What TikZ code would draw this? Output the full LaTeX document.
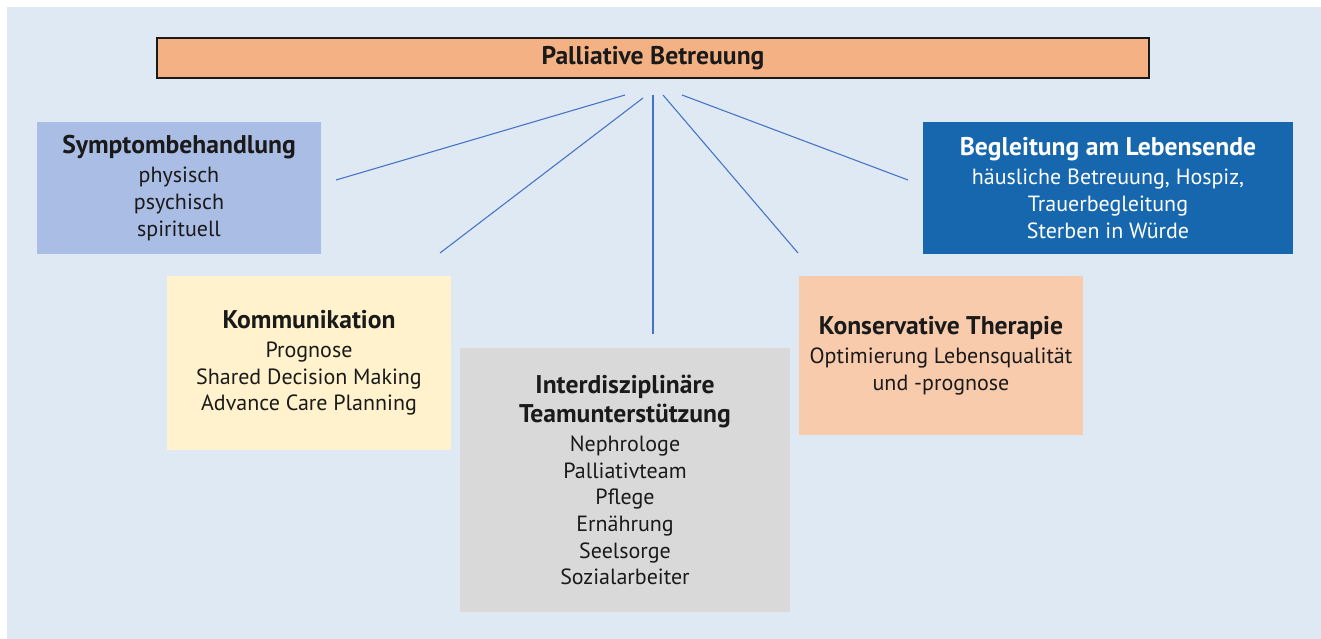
\documentclass[tikz,border=0pt]{standalone}
\usepackage{fontspec}
\setmainfont{PT Sans}
\definecolor{bg}{HTML}{DFE9F4}
\definecolor{toporange}{HTML}{F4B183}
\definecolor{symblue}{HTML}{AABDE5}
\definecolor{darkblue}{HTML}{1667AD}
\definecolor{kommyellow}{HTML}{FFF2CC}
\definecolor{teamgray}{HTML}{D9D9D9}
\definecolor{konspeach}{HTML}{F8CBAD}
\definecolor{lineblue}{HTML}{4472C4}
\definecolor{txt}{HTML}{1A1A1A}
\newcommand{\hd}[1]{{\fontsize{19.2}{20}\selectfont\bfseries #1}}
\begin{document}
\begin{tikzpicture}[x=0.75pt,y=-0.75pt,
  box/.style={rectangle, inner sep=0pt, align=center, font=\fontsize{16.5}{20}\selectfont, text=txt},
  conn/.style={draw=lineblue, line width=0.8pt}]
\fill[white] (0,0) rectangle (1321,639);
\fill[bg] (7,7) rectangle (1321,639);
\useasboundingbox (0,0) rectangle (1321,639);

\node[box, fill=toporange, draw=txt, line width=0.9pt, minimum width=744pt, minimum height=30pt] (top) at (653,58) {\hd{Palliative Betreuung}};

\node[box, fill=symblue, minimum width=213pt, minimum height=99pt] (symp) at (179,188)
  {\hd{Symptombehandlung}\\[1.75pt]physisch\\psychisch\\spirituell};
\node[box, fill=darkblue, text=white, minimum width=277.5pt, minimum height=99pt] (begl) at (1108,188)
  {\hd{Begleitung am Lebensende}\\[1.75pt]häusliche Betreuung, Hospiz,\\Trauerbegleitung\\Sterben in Würde};
\node[box, fill=kommyellow, minimum width=213pt, minimum height=130.5pt] (komm) at (309,363)
  {\hd{Kommunikation}\\[1.75pt]Prognose\\Shared Decision Making\\Advance Care Planning};
\node[box, fill=teamgray, minimum width=247.5pt, minimum height=198pt] (team) at (625,480)
  {\hd{Interdisziplinäre}\\[1.75pt]\hd{Teamunterstützung}\\[1.75pt]Nephrologe\\Palliativteam\\Pflege\\Ernährung\\Seelsorge\\Sozialarbeiter};
\node[box, fill=konspeach, minimum width=213pt, minimum height=119.25pt] (kons) at (941,355.5)
  {\hd{Konservative Therapie}\\[1.75pt]Optimierung Lebensqualität\\und -prognose};

\coordinate (c1a) at (625,95);  \coordinate (c1b) at (336,180);
\coordinate (c2a) at (643,98);  \coordinate (c2b) at (440,253);
\coordinate (c3a) at (653,95);  \coordinate (c3b) at (653,334);
\coordinate (c4a) at (663,95);  \coordinate (c4b) at (798,253);
\coordinate (c5a) at (682,95);  \coordinate (c5b) at (908,180);
\draw[conn] (c1a) -- (c1b);
\draw[conn] (c2a) -- (c2b);
\draw[conn] (c3a) -- (c3b);
\draw[conn] (c4a) -- (c4b);
\draw[conn] (c5a) -- (c5b);
\end{tikzpicture}
\end{document}
